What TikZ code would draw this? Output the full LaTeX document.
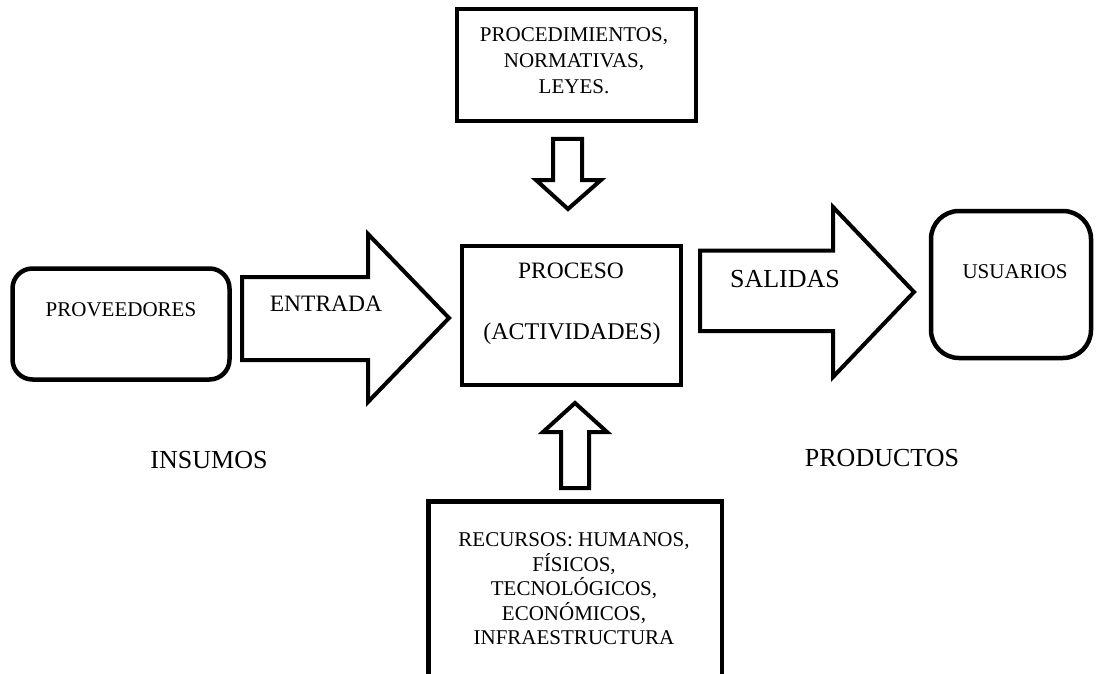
\documentclass[tikz,border=0pt]{standalone}
\usepackage{fontspec}
\setmainfont{Liberation Serif}
\usepackage{tikz}

\begin{document}
\begin{tikzpicture}[x=1pt,y=-1pt]
	\tikzstyle{every node}=[inner sep=0pt, outer sep=0pt]
	\tikzstyle{caja}=[draw, line width=4.5pt]
	\tikzstyle{flecha}=[draw, line width=4pt, line join=miter]
	\tikzstyle{chico}=[font=\fontsize{21}{24.5}\selectfont, align=center]
	\tikzstyle{medio}=[font=\fontsize{23.5}{28}\selectfont, anchor=base]
	\tikzstyle{grande}=[font=\fontsize{26}{30}\selectfont, anchor=base]
	\useasboundingbox (0,0) rectangle (1100,674);
	% cajas
	\draw (121,324) node (prov) [caja, rounded corners=20pt, minimum width=217pt, minimum height=111pt] {};
	\draw (571.5,315.5) node (proc) [caja, minimum width=219pt, minimum height=139pt] {};
	\draw (576.5,65) node (norm) [caja, minimum width=239pt, minimum height=112pt] {};
	\draw (1011,284.5) node (usu) [caja, rounded corners=28pt, minimum width=160pt, minimum height=147pt] {};
	\draw (575.25,601) node (rec) [caja, minimum width=293.5pt, minimum height=199pt] {};
	% flechas
	\draw[flecha] (242,277) -- (368,277) -- (368,234) -- (449,318) -- (368,402) -- (368,360) -- (242,360) -- cycle;
	\draw[flecha] (700,250.5) -- (833,250.5) -- (833,207) -- (914,292) -- (833,377) -- (833,331) -- (700,331) -- cycle;
	\draw[flecha] (553,139) -- (582,139) -- (582,180) -- (601,180) -- (568,209) -- (536,180) -- (553,180) -- cycle;
	\draw[flecha] (561,488) -- (589,488) -- (589,432) -- (607,432) -- (575,403) -- (543,432) -- (561,432) -- cycle;
	% textos
	\draw (121,316.5) node (tprov) [chico, anchor=base] {PROVEEDORES};
	\draw (1015,278) node (tusu) [chico, anchor=base] {USUARIOS};
	\draw (574,60.5) node (tnorm) [chico, font=\fontsize{21}{26.3}\selectfont] {PROCEDIMIENTOS,\\NORMATIVAS,\\LEYES.};
	\draw (574,589) node (trec) [chico] {RECURSOS: HUMANOS,\\FÍSICOS,\\TECNOLÓGICOS,\\ECONÓMICOS,\\INFRAESTRUCTURA};
	\draw (326,311.8) node (tent) [medio] {ENTRADA};
	\draw (571,278.8) node (tproc) [medio] {PROCESO};
	\draw (572,339) node (tact) [medio, font=\fontsize{24}{28}\selectfont] {(ACTIVIDADES)};
	\draw (785,287) node (tsal) [grande] {SALIDAS};
	\draw (209,468.6) node (tins) [grande] {INSUMOS};
	\draw (882,466.6) node (tprod) [grande] {PRODUCTOS};
\end{tikzpicture}
\end{document}
